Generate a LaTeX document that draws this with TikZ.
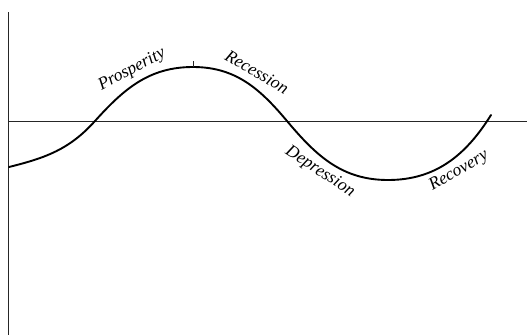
\documentclass[tikz,border=0pt]{standalone}
\usepackage{fontspec}
\setmainfont{Liberation Serif}
\usepackage{tikz}
\usetikzlibrary{positioning}
\tikzset{axisline/.style={draw=black!85,line width=.8pt},cycleline/.style={draw=black,line width=1.9pt,line cap=round},phaselabel/.style={font=\fontsize{17.5}{19}\selectfont\itshape,inner sep=1pt}}

\begin{document}
\begin{tikzpicture}[x=1pt,y=1pt]
\useasboundingbox (0,0) rectangle (527,-335);
\coordinate (axtop) at (8,-12);\coordinate (axbot) at (8,-335);
\coordinate (zl) at (8,-121);\coordinate (zr) at (527,-121);
\draw[axisline] (axtop)--(axbot);
\draw[axisline] (zl)--(zr);
\coordinate (c0) at (9,-167);\coordinate (c1) at (95,-121);\coordinate (peak) at (193,-67);
\coordinate (c3) at (287,-121);\coordinate (trough) at (388,-180);\coordinate (c5) at (491,-115);
\draw[cycleline] (c0) to[out=14,in=228] (c1) to[out=48,in=180] (peak) to[out=0,in=130] (c3) to[out=-50,in=180] (trough) to[out=0,in=238] (c5);
\coordinate (tick) at (193,-61);
\draw[axisline] (peak)--(tick);
\node[phaselabel,rotate=28] (prosp) at (132,-70) {Prosperity};
\node[phaselabel,rotate=-30] (reces) at (257,-72) {Recession};
\node[phaselabel,rotate=-33] (depr) at (320,-172) {Depression};
\node[phaselabel,rotate=30] (recov) at (459,-171) {Recovery};
\end{tikzpicture}
\end{document}
